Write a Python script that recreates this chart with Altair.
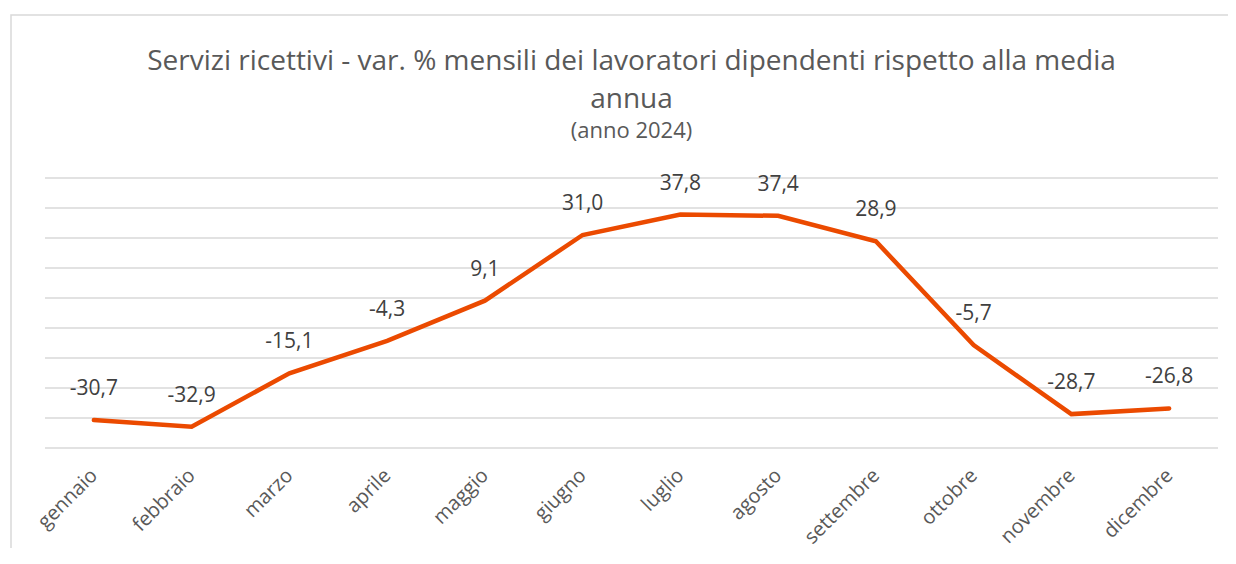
import altair as alt
import pandas as pd

months = ["gennaio", "febbraio", "marzo", "aprile", "maggio", "giugno",
          "luglio", "agosto", "settembre", "ottobre", "novembre", "dicembre"]
values = [-30.7, -32.9, -15.1, -4.3, 9.1, 31.0, 37.8, 37.4, 28.9, -5.7, -28.7, -26.8]
y_ticks = [-40, -30, -20, -10, 0, 10, 20, 30, 40, 50]

df = pd.DataFrame({
    "mese": months,
    "valore": values,
    "lab": [f"{v:.1f}".replace(".", ",") for v in values],
})
grid_df = pd.DataFrame({"g": y_ticks})

FONT = "Open Sans"
W, H = 1173, 270
y_scale = alt.Scale(domain=[-40, 50], nice=False, zero=False)

x_enc = alt.X("mese:N", sort=months, title=None,
              scale=alt.Scale(type="point", padding=0.5),
              axis=alt.Axis(labelAngle=-45, labelAlign="right", labelBaseline="middle",
                            labelFontSize=20, labelColor="#595959", labelFont=FONT,
                            labelPadding=24, ticks=False, domain=False, grid=False))
y_enc = alt.Y("valore:Q", title=None, scale=y_scale, axis=None)

grid = alt.Chart(grid_df).mark_rule(color="#d9d9d9", strokeWidth=1.5).encode(
    y=alt.Y("g:Q", scale=y_scale, axis=None))

base = alt.Chart(df)

line = base.mark_line(color="#EB4A00", strokeWidth=4.5, strokeCap="round",
                      strokeJoin="miter").encode(x=x_enc, y=y_enc)

labels = base.mark_text(font=FONT, fontSize=21, color="#404040", dy=-25,
                        baseline="alphabetic").encode(
    x=alt.X("mese:N", sort=months), y=alt.Y("valore:Q", scale=y_scale), text="lab:N")

frame = alt.Chart(pd.DataFrame({"f": [0]})).mark_rect(
    fill=None, stroke="#d9d9d9", strokeWidth=1.5
).encode(x=alt.value(-34), x2=alt.value(W + 60),
         y=alt.value(-163), y2=alt.value(H + 160))

chart = alt.layer(frame, grid, line, labels).properties(
    width=W, height=H,
    background="white",
    padding={"left": 37, "top": 170, "right": 10, "bottom": 100},
    autosize=alt.AutoSizeParams(type="none"),
    title=alt.TitleParams(
        text=["Servizi ricettivi - var. % mensili dei lavoratori dipendenti rispetto alla media",
              "annua"],
        subtitle="(anno 2024)",
        font=FONT, fontSize=28, fontWeight="normal", color="#595959",
        lineHeight=38,
        subtitleFont=FONT, subtitleFontSize=22, subtitleColor="#595959",
        subtitlePadding=7, anchor="middle", frame="group", offset=-128),
).configure_view(strokeWidth=0)

chart.save("out.html", embed_options={"renderer": "svg", "actions": False})
